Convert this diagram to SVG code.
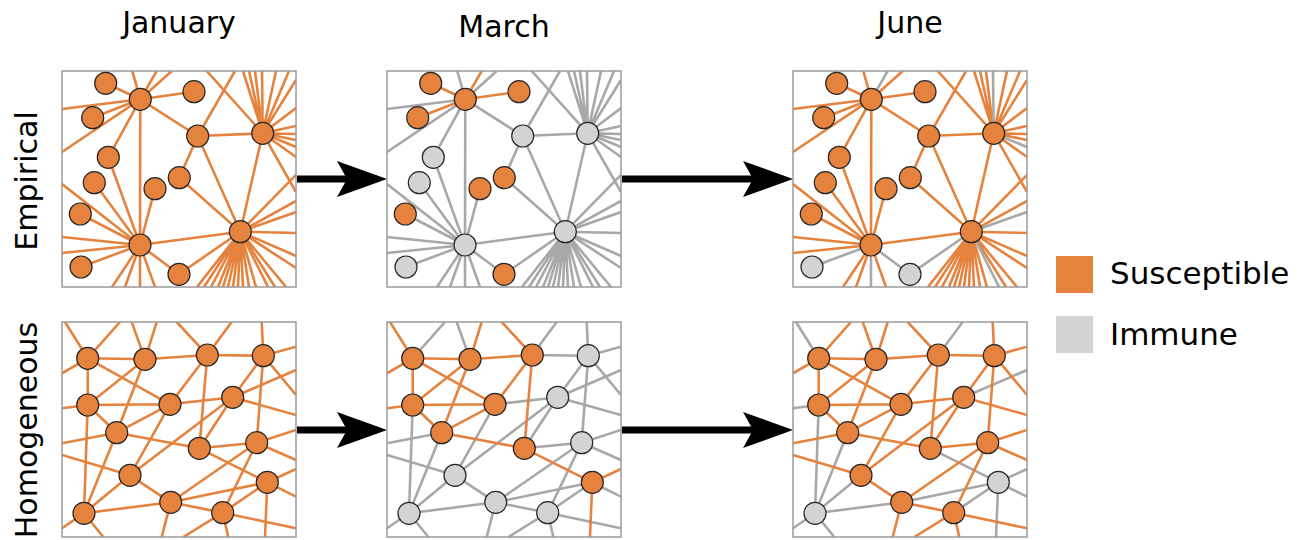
<svg xmlns="http://www.w3.org/2000/svg" width="1309" height="540" viewBox="0 0 1309 540">
<style>
.e path{fill:none;stroke-width:2.6}
.o{stroke:#E5833E}
.g{stroke:#A8A8A8}
.frame{fill:none;stroke:#9a9a9a;stroke-width:1.5}
.nd circle{stroke:#262626;stroke-width:1.2}
.so circle{fill:#E5833E}
.im circle{fill:#D3D3D3}
.lbl{font-family:"DejaVu Sans","Liberation Sans",sans-serif;fill:#000}
.arr{stroke:#000;stroke-width:7;fill:none}
</style>
<defs>
<clipPath id="pc"><rect x="0" y="0" width="234" height="216"/></clipPath>
<marker id="ah" markerUnits="userSpaceOnUse" markerWidth="50" markerHeight="36" viewBox="0 0 50 36" refX="40" refY="18" orient="auto"><path d="M0,0 L50,18 L0,36 L10,18 Z" fill="#000"/></marker>
</defs>
<rect width="1309" height="540" fill="#fff"/>

<g id="labels" class="lbl">
<text x="179" y="33" text-anchor="middle" font-size="30">January</text>
<text x="504" y="37" text-anchor="middle" font-size="30">March</text>
<text x="910" y="33" text-anchor="middle" font-size="30">June</text>
<text transform="translate(37,181) rotate(-90)" text-anchor="middle" font-size="30">Empirical</text>
<text transform="translate(37,430) rotate(-90)" text-anchor="middle" font-size="30">Homogeneous</text>
</g>

<g id="legend">
<rect x="1056" y="256" width="37" height="37" fill="#E5833E"/>
<rect x="1056" y="316" width="37" height="37" fill="#D3D3D3"/>
<text class="lbl" x="1110" y="284" font-size="31">Susceptible</text>
<text class="lbl" x="1110" y="345" font-size="31">Immune</text>
</g>

<g id="connectors">
<line class="arr" x1="297" y1="179" x2="377" y2="179" marker-end="url(#ah)"/>
<line class="arr" x1="622" y1="179" x2="783" y2="179" marker-end="url(#ah)"/>
<line class="arr" x1="297" y1="430" x2="377" y2="430" marker-end="url(#ah)"/>
<line class="arr" x1="622" y1="430" x2="783" y2="430" marker-end="url(#ah)"/>
</g>

<!-- ===== Empirical, January ===== -->
<g id="emp-jan" transform="translate(62,71)">
<rect width="234" height="216" fill="#fff"/>
<g class="e o" clip-path="url(#pc)">
<path d="M43.7,12.3L78.3,28.3M132,20.7L78.3,28.3M30.7,46.7L78.3,28.3M78.3,28.3L94.7,0"/>
<path d="M78.3,28.3L0,38M78.3,28.3L0,81M78.3,28.3L70.3,0M78.3,28.3L109.7,0M78.3,28.3L135.7,65M78.3,28.3L46.3,86.3M78.3,28.3L78,174"/>
<path d="M135.7,65L200.7,62.3M135.7,65L173,0M135.7,65L117.3,106.7M135.7,65L178.3,160.7"/>
<path d="M200.7,62.3L144.7,0M200.7,62.3L178.3,160.7M200.7,62.3L181,0M200.7,62.3L187,0M200.7,62.3L193,0M200.7,62.3L214,0M200.7,62.3L227,0M200.7,62.3L234,9M200.7,62.3L234,37M200.7,62.3L234,55M200.7,62.3L234,63M200.7,62.3L234,69M200.7,62.3L234,86M200.7,62.3L234,121"/>
<path d="M200.7,62.3L200,0M200.7,62.3L234,76"/>
<path d="M78,174L46.3,86.3M78,174L32.3,111.7M78,174L93,117.7M78,174L18.3,143M78,174L0,113M78,174L0,166M78,174L0,182M78,174L50,216M78,174L63,216M78,174L93,216"/>
<path d="M78,174L19,196M78,174L117,203.3M78,174L78,216"/>
<path d="M178.3,160.7L117.3,106.7M178.3,160.7L78,174M178.3,160.7L234,104M178.3,160.7L234,130M178.3,160.7L234,162M178.3,160.7L234,185M178.3,160.7L234,197M178.3,160.7L135,216M178.3,160.7L142,216M178.3,160.7L149,216M178.3,160.7L156,216M178.3,160.7L161,216M178.3,160.7L166,216M178.3,160.7L171,216M178.3,160.7L176,216M178.3,160.7L181,216M178.3,160.7L187,216M178.3,160.7L194,216M178.3,160.7L213,216M178.3,160.7L224,216"/>
<path d="M178.3,160.7L117,203.3M178.3,160.7L234,141M178.3,160.7L206,216"/>
</g>
<rect class="frame" width="234" height="216"/>
<g id="e1-A" class="nd so"><circle cx="43.7" cy="12.3" r="11"/></g>
<g id="e1-B" class="nd so"><circle cx="78.3" cy="28.3" r="11"/></g>
<g id="e1-C" class="nd so"><circle cx="132" cy="20.7" r="11"/></g>
<g id="e1-D" class="nd so"><circle cx="30.7" cy="46.7" r="11"/></g>
<g id="e1-E" class="nd so"><circle cx="135.7" cy="65" r="11"/></g>
<g id="e1-F" class="nd so"><circle cx="200.7" cy="62.3" r="11"/></g>
<g id="e1-G" class="nd so"><circle cx="46.3" cy="86.3" r="11"/></g>
<g id="e1-H" class="nd so"><circle cx="32.3" cy="111.7" r="11"/></g>
<g id="e1-I" class="nd so"><circle cx="93" cy="117.7" r="11"/></g>
<g id="e1-J" class="nd so"><circle cx="117.3" cy="106.7" r="11"/></g>
<g id="e1-K" class="nd so"><circle cx="18.3" cy="143" r="11"/></g>
<g id="e1-L" class="nd so"><circle cx="178.3" cy="160.7" r="11"/></g>
<g id="e1-M" class="nd so"><circle cx="78" cy="174" r="11"/></g>
<g id="e1-N" class="nd so"><circle cx="19" cy="196" r="11"/></g>
<g id="e1-O" class="nd so"><circle cx="117" cy="203.3" r="11"/></g>
</g>

<!-- ===== Empirical, March ===== -->
<g id="emp-mar" transform="translate(387,71)">
<rect width="234" height="216" fill="#fff"/>
<g class="e g" clip-path="url(#pc)">
<path d="M78.3,28.3L0,38M78.3,28.3L0,81M78.3,28.3L70.3,0M78.3,28.3L109.7,0M78.3,28.3L135.7,65M78.3,28.3L46.3,86.3M78.3,28.3L78,174"/>
<path d="M135.7,65L200.7,62.3M135.7,65L173,0M135.7,65L117.3,106.7M135.7,65L178.3,160.7"/>
<path d="M200.7,62.3L144.7,0M200.7,62.3L178.3,160.7M200.7,62.3L181,0M200.7,62.3L187,0M200.7,62.3L193,0M200.7,62.3L214,0M200.7,62.3L227,0M200.7,62.3L234,9M200.7,62.3L234,37M200.7,62.3L234,55M200.7,62.3L234,63M200.7,62.3L234,69M200.7,62.3L234,86M200.7,62.3L234,121"/>
<path d="M200.7,62.3L200,0M200.7,62.3L234,76"/>
<path d="M78,174L46.3,86.3M78,174L32.3,111.7M78,174L93,117.7M78,174L18.3,143M78,174L0,113M78,174L0,166M78,174L0,182M78,174L50,216M78,174L63,216M78,174L93,216"/>
<path d="M78,174L19,196M78,174L117,203.3M78,174L78,216"/>
<path d="M178.3,160.7L117.3,106.7M178.3,160.7L78,174M178.3,160.7L234,104M178.3,160.7L234,130M178.3,160.7L234,162M178.3,160.7L234,185M178.3,160.7L234,197M178.3,160.7L135,216M178.3,160.7L142,216M178.3,160.7L149,216M178.3,160.7L156,216M178.3,160.7L161,216M178.3,160.7L166,216M178.3,160.7L171,216M178.3,160.7L176,216M178.3,160.7L181,216M178.3,160.7L187,216M178.3,160.7L194,216M178.3,160.7L213,216M178.3,160.7L224,216"/>
<path d="M178.3,160.7L117,203.3M178.3,160.7L234,141M178.3,160.7L206,216"/>
</g>
<g class="e o" clip-path="url(#pc)">
<path d="M43.7,12.3L78.3,28.3M132,20.7L78.3,28.3M30.7,46.7L78.3,28.3M78.3,28.3L94.7,0"/>
</g>
<rect class="frame" width="234" height="216"/>
<g id="e2-A" class="nd so"><circle cx="43.7" cy="12.3" r="11"/></g>
<g id="e2-B" class="nd so"><circle cx="78.3" cy="28.3" r="11"/></g>
<g id="e2-C" class="nd so"><circle cx="132" cy="20.7" r="11"/></g>
<g id="e2-D" class="nd so"><circle cx="30.7" cy="46.7" r="11"/></g>
<g id="e2-E" class="nd im"><circle cx="135.7" cy="65" r="11"/></g>
<g id="e2-F" class="nd im"><circle cx="200.7" cy="62.3" r="11"/></g>
<g id="e2-G" class="nd im"><circle cx="46.3" cy="86.3" r="11"/></g>
<g id="e2-H" class="nd im"><circle cx="32.3" cy="111.7" r="11"/></g>
<g id="e2-I" class="nd so"><circle cx="93" cy="117.7" r="11"/></g>
<g id="e2-J" class="nd so"><circle cx="117.3" cy="106.7" r="11"/></g>
<g id="e2-K" class="nd so"><circle cx="18.3" cy="143" r="11"/></g>
<g id="e2-L" class="nd im"><circle cx="178.3" cy="160.7" r="11"/></g>
<g id="e2-M" class="nd im"><circle cx="78" cy="174" r="11"/></g>
<g id="e2-N" class="nd im"><circle cx="19" cy="196" r="11"/></g>
<g id="e2-O" class="nd so"><circle cx="117" cy="203.3" r="11"/></g>
</g>

<!-- ===== Empirical, June ===== -->
<g id="emp-jun" transform="translate(793,71)">
<rect width="234" height="216" fill="#fff"/>
<g class="e o" clip-path="url(#pc)">
<path d="M43.7,12.3L78.3,28.3M132,20.7L78.3,28.3M30.7,46.7L78.3,28.3"/>
<path d="M78.3,28.3L0,38M78.3,28.3L0,81M78.3,28.3L70.3,0M78.3,28.3L109.7,0M78.3,28.3L135.7,65M78.3,28.3L46.3,86.3M78.3,28.3L78,174"/>
<path d="M135.7,65L200.7,62.3M135.7,65L173,0M135.7,65L117.3,106.7M135.7,65L178.3,160.7"/>
<path d="M200.7,62.3L144.7,0M200.7,62.3L178.3,160.7M200.7,62.3L181,0M200.7,62.3L187,0M200.7,62.3L193,0M200.7,62.3L214,0M200.7,62.3L227,0M200.7,62.3L234,9M200.7,62.3L234,37M200.7,62.3L234,55M200.7,62.3L234,63M200.7,62.3L234,69M200.7,62.3L234,86M200.7,62.3L234,121"/>
<path d="M78,174L46.3,86.3M78,174L32.3,111.7M78,174L93,117.7M78,174L18.3,143M78,174L0,113M78,174L0,166M78,174L0,182M78,174L50,216M78,174L63,216M78,174L93,216"/>
<path d="M178.3,160.7L117.3,106.7M178.3,160.7L78,174M178.3,160.7L234,104M178.3,160.7L234,130M178.3,160.7L234,162M178.3,160.7L234,185M178.3,160.7L234,197M178.3,160.7L135,216M178.3,160.7L142,216M178.3,160.7L149,216M178.3,160.7L156,216M178.3,160.7L161,216M178.3,160.7L166,216M178.3,160.7L171,216M178.3,160.7L176,216M178.3,160.7L181,216M178.3,160.7L187,216M178.3,160.7L194,216M178.3,160.7L213,216M178.3,160.7L224,216"/>
</g>
<g class="e g" clip-path="url(#pc)">
<path d="M78.3,28.3L94.7,0"/>
<path d="M200.7,62.3L200,0M200.7,62.3L234,76"/>
<path d="M78,174L19,196M78,174L117,203.3M78,174L78,216"/>
<path d="M178.3,160.7L117,203.3M178.3,160.7L234,141M178.3,160.7L206,216"/>
</g>
<rect class="frame" width="234" height="216"/>
<g id="e3-A" class="nd so"><circle cx="43.7" cy="12.3" r="11"/></g>
<g id="e3-B" class="nd so"><circle cx="78.3" cy="28.3" r="11"/></g>
<g id="e3-C" class="nd so"><circle cx="132" cy="20.7" r="11"/></g>
<g id="e3-D" class="nd so"><circle cx="30.7" cy="46.7" r="11"/></g>
<g id="e3-E" class="nd so"><circle cx="135.7" cy="65" r="11"/></g>
<g id="e3-F" class="nd so"><circle cx="200.7" cy="62.3" r="11"/></g>
<g id="e3-G" class="nd so"><circle cx="46.3" cy="86.3" r="11"/></g>
<g id="e3-H" class="nd so"><circle cx="32.3" cy="111.7" r="11"/></g>
<g id="e3-I" class="nd so"><circle cx="93" cy="117.7" r="11"/></g>
<g id="e3-J" class="nd so"><circle cx="117.3" cy="106.7" r="11"/></g>
<g id="e3-K" class="nd so"><circle cx="18.3" cy="143" r="11"/></g>
<g id="e3-L" class="nd so"><circle cx="178.3" cy="160.7" r="11"/></g>
<g id="e3-M" class="nd so"><circle cx="78" cy="174" r="11"/></g>
<g id="e3-N" class="nd im"><circle cx="19" cy="196" r="11"/></g>
<g id="e3-O" class="nd im"><circle cx="117" cy="203.3" r="11"/></g>
</g>

<!-- ===== Homogeneous, January ===== -->
<g id="hom-jan" transform="translate(62,322)">
<rect width="234" height="215" fill="#fff"/>
<g class="e o" clip-path="url(#pc)">
<path d="M25.7,36.3L83,37.3M25.7,36.3L0,51.3M25.7,36.3L25.7,83M25.7,36.3L108,82.3M83,37.3L94.7,0M83,37.3L145.3,33M83,37.3L25.7,83M83,37.3L54.7,110.7M145.3,33L114.7,0M145.3,33L108,82.3M145.3,33L137.3,126.3M25.7,83L108,82.3M25.7,83L54.7,110.7M108,82.3L54.7,110.7M54.7,110.7L137.3,126.3"/>
<path d="M25.7,36.3L3,0M25.7,83L0,86.3M137.3,126.3L205.3,160.3M205.3,160.3L234,147M205.3,160.3L203,215"/>
<path d="M145.3,33L169.7,0M25.7,83L22,191.3M170.7,75.3L234,48M54.7,110.7L22,191.3M68,153.3L22,191.3M205.3,160.3L108.7,180.3M205.3,160.3L160.7,190.7M205.3,160.3L234,174.7M22,191.3L108.7,180.3M22,191.3L0,206.3M22,191.3L41.3,215"/>
<path d="M25.7,36.3L58,0M83,37.3L69.7,0M145.3,33L201.3,33.7M201.3,33.7L199.7,0M201.3,33.7L234,24.7M201.3,33.7L234,73M201.3,33.7L170.7,75.3M201.3,33.7L194.7,120.7M108,82.3L170.7,75.3M108,82.3L68,153.3M170.7,75.3L234,93M170.7,75.3L137.3,126.3M170.7,75.3L68,153.3M54.7,110.7L0,121.3M137.3,126.3L194.7,120.7M194.7,120.7L234,108M194.7,120.7L234,138M194.7,120.7L160.7,190.7M194.7,120.7L108.7,180.3M68,153.3L108.7,180.3M68,153.3L0,133M108.7,180.3L99.7,215M160.7,190.7L121.3,215M160.7,190.7L166.3,215M160.7,190.7L234,206.3M160.7,190.7L108.7,180.3"/>
</g>
<rect class="frame" width="234" height="215"/>
<g id="h1-P1" class="nd so"><circle cx="25.7" cy="36.3" r="11"/></g>
<g id="h1-P2" class="nd so"><circle cx="83" cy="37.3" r="11"/></g>
<g id="h1-P3" class="nd so"><circle cx="145.3" cy="33" r="11"/></g>
<g id="h1-P4" class="nd so"><circle cx="201.3" cy="33.7" r="11"/></g>
<g id="h1-Q1" class="nd so"><circle cx="25.7" cy="83" r="11"/></g>
<g id="h1-Q2" class="nd so"><circle cx="108" cy="82.3" r="11"/></g>
<g id="h1-Q3" class="nd so"><circle cx="170.7" cy="75.3" r="11"/></g>
<g id="h1-R1" class="nd so"><circle cx="54.7" cy="110.7" r="11"/></g>
<g id="h1-R2" class="nd so"><circle cx="137.3" cy="126.3" r="11"/></g>
<g id="h1-R3" class="nd so"><circle cx="194.7" cy="120.7" r="11"/></g>
<g id="h1-S1" class="nd so"><circle cx="68" cy="153.3" r="11"/></g>
<g id="h1-S2" class="nd so"><circle cx="205.3" cy="160.3" r="11"/></g>
<g id="h1-T1" class="nd so"><circle cx="22" cy="191.3" r="11"/></g>
<g id="h1-T2" class="nd so"><circle cx="108.7" cy="180.3" r="11"/></g>
<g id="h1-T3" class="nd so"><circle cx="160.7" cy="190.7" r="11"/></g>
</g>

<!-- ===== Homogeneous, March ===== -->
<g id="hom-mar" transform="translate(387,322)">
<rect width="234" height="215" fill="#fff"/>
<g class="e g" clip-path="url(#pc)">
<path d="M145.3,33L169.7,0M25.7,83L22,191.3M170.7,75.3L234,48M54.7,110.7L22,191.3M68,153.3L22,191.3M205.3,160.3L108.7,180.3M205.3,160.3L160.7,190.7M205.3,160.3L234,174.7M22,191.3L108.7,180.3M22,191.3L0,206.3M22,191.3L41.3,215"/>
<path d="M25.7,36.3L58,0M83,37.3L69.7,0M145.3,33L201.3,33.7M201.3,33.7L199.7,0M201.3,33.7L234,24.7M201.3,33.7L234,73M201.3,33.7L170.7,75.3M201.3,33.7L194.7,120.7M108,82.3L170.7,75.3M108,82.3L68,153.3M170.7,75.3L234,93M170.7,75.3L137.3,126.3M170.7,75.3L68,153.3M54.7,110.7L0,121.3M137.3,126.3L194.7,120.7M194.7,120.7L234,108M194.7,120.7L234,138M194.7,120.7L160.7,190.7M194.7,120.7L108.7,180.3M68,153.3L108.7,180.3M68,153.3L0,133M108.7,180.3L99.7,215M160.7,190.7L121.3,215M160.7,190.7L166.3,215M160.7,190.7L234,206.3M160.7,190.7L108.7,180.3"/>
</g>
<g class="e o" clip-path="url(#pc)">
<path d="M25.7,36.3L83,37.3M25.7,36.3L0,51.3M25.7,36.3L25.7,83M25.7,36.3L108,82.3M83,37.3L94.7,0M83,37.3L145.3,33M83,37.3L25.7,83M83,37.3L54.7,110.7M145.3,33L114.7,0M145.3,33L108,82.3M145.3,33L137.3,126.3M25.7,83L108,82.3M25.7,83L54.7,110.7M108,82.3L54.7,110.7M54.7,110.7L137.3,126.3"/>
<path d="M25.7,36.3L3,0M25.7,83L0,86.3M137.3,126.3L205.3,160.3M205.3,160.3L234,147M205.3,160.3L203,215"/>
</g>
<rect class="frame" width="234" height="215"/>
<g id="h2-P1" class="nd so"><circle cx="25.7" cy="36.3" r="11"/></g>
<g id="h2-P2" class="nd so"><circle cx="83" cy="37.3" r="11"/></g>
<g id="h2-P3" class="nd so"><circle cx="145.3" cy="33" r="11"/></g>
<g id="h2-P4" class="nd im"><circle cx="201.3" cy="33.7" r="11"/></g>
<g id="h2-Q1" class="nd so"><circle cx="25.7" cy="83" r="11"/></g>
<g id="h2-Q2" class="nd so"><circle cx="108" cy="82.3" r="11"/></g>
<g id="h2-Q3" class="nd im"><circle cx="170.7" cy="75.3" r="11"/></g>
<g id="h2-R1" class="nd so"><circle cx="54.7" cy="110.7" r="11"/></g>
<g id="h2-R2" class="nd so"><circle cx="137.3" cy="126.3" r="11"/></g>
<g id="h2-R3" class="nd im"><circle cx="194.7" cy="120.7" r="11"/></g>
<g id="h2-S1" class="nd im"><circle cx="68" cy="153.3" r="11"/></g>
<g id="h2-S2" class="nd so"><circle cx="205.3" cy="160.3" r="11"/></g>
<g id="h2-T1" class="nd im"><circle cx="22" cy="191.3" r="11"/></g>
<g id="h2-T2" class="nd im"><circle cx="108.7" cy="180.3" r="11"/></g>
<g id="h2-T3" class="nd im"><circle cx="160.7" cy="190.7" r="11"/></g>
</g>

<!-- ===== Homogeneous, June ===== -->
<g id="hom-jun" transform="translate(793,322)">
<rect width="234" height="215" fill="#fff"/>
<g class="e g" clip-path="url(#pc)">
<path d="M25.7,36.3L3,0M25.7,83L0,86.3M137.3,126.3L205.3,160.3M205.3,160.3L234,147M205.3,160.3L203,215"/>
<path d="M145.3,33L169.7,0M25.7,83L22,191.3M170.7,75.3L234,48M54.7,110.7L22,191.3M68,153.3L22,191.3M205.3,160.3L108.7,180.3M205.3,160.3L160.7,190.7M205.3,160.3L234,174.7M22,191.3L108.7,180.3M22,191.3L0,206.3M22,191.3L41.3,215"/>
</g>
<g class="e o" clip-path="url(#pc)">
<path d="M25.7,36.3L83,37.3M25.7,36.3L0,51.3M25.7,36.3L25.7,83M25.7,36.3L108,82.3M83,37.3L94.7,0M83,37.3L145.3,33M83,37.3L25.7,83M83,37.3L54.7,110.7M145.3,33L114.7,0M145.3,33L108,82.3M145.3,33L137.3,126.3M25.7,83L108,82.3M25.7,83L54.7,110.7M108,82.3L54.7,110.7M54.7,110.7L137.3,126.3"/>
<path d="M25.7,36.3L58,0M83,37.3L69.7,0M145.3,33L201.3,33.7M201.3,33.7L199.7,0M201.3,33.7L234,24.7M201.3,33.7L234,73M201.3,33.7L170.7,75.3M201.3,33.7L194.7,120.7M108,82.3L170.7,75.3M108,82.3L68,153.3M170.7,75.3L234,93M170.7,75.3L137.3,126.3M170.7,75.3L68,153.3M54.7,110.7L0,121.3M137.3,126.3L194.7,120.7M194.7,120.7L234,108M194.7,120.7L234,138M194.7,120.7L160.7,190.7M194.7,120.7L108.7,180.3M68,153.3L108.7,180.3M68,153.3L0,133M108.7,180.3L99.7,215M160.7,190.7L121.3,215M160.7,190.7L166.3,215M160.7,190.7L234,206.3M160.7,190.7L108.7,180.3"/>
</g>
<rect class="frame" width="234" height="215"/>
<g id="h3-P1" class="nd so"><circle cx="25.7" cy="36.3" r="11"/></g>
<g id="h3-P2" class="nd so"><circle cx="83" cy="37.3" r="11"/></g>
<g id="h3-P3" class="nd so"><circle cx="145.3" cy="33" r="11"/></g>
<g id="h3-P4" class="nd so"><circle cx="201.3" cy="33.7" r="11"/></g>
<g id="h3-Q1" class="nd so"><circle cx="25.7" cy="83" r="11"/></g>
<g id="h3-Q2" class="nd so"><circle cx="108" cy="82.3" r="11"/></g>
<g id="h3-Q3" class="nd so"><circle cx="170.7" cy="75.3" r="11"/></g>
<g id="h3-R1" class="nd so"><circle cx="54.7" cy="110.7" r="11"/></g>
<g id="h3-R2" class="nd so"><circle cx="137.3" cy="126.3" r="11"/></g>
<g id="h3-R3" class="nd so"><circle cx="194.7" cy="120.7" r="11"/></g>
<g id="h3-S1" class="nd so"><circle cx="68" cy="153.3" r="11"/></g>
<g id="h3-S2" class="nd im"><circle cx="205.3" cy="160.3" r="11"/></g>
<g id="h3-T1" class="nd im"><circle cx="22" cy="191.3" r="11"/></g>
<g id="h3-T2" class="nd so"><circle cx="108.7" cy="180.3" r="11"/></g>
<g id="h3-T3" class="nd so"><circle cx="160.7" cy="190.7" r="11"/></g>
</g>
</svg>
